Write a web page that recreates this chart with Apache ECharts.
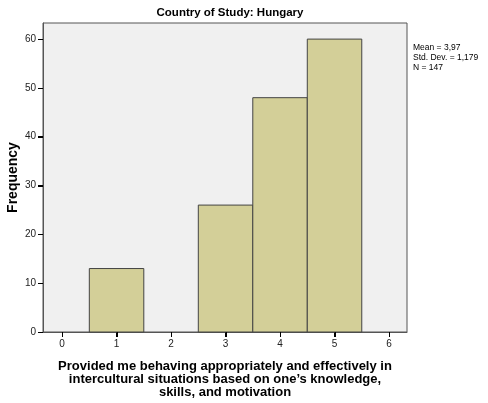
<!DOCTYPE html>
<html><head><meta charset="utf-8">
<script src="https://cdn.jsdelivr.net/npm/echarts@6/dist/echarts.min.js"></script>
<style>html,body{margin:0;padding:0;background:#fff}#c{width:488px;height:403px}</style>
</head><body><div id="c"></div>
<script>
const binCenters = [1, 3, 4, 5];
const frequencies = [13, 26, 48, 60];
const xTicks = [0, 1, 2, 3, 4, 5, 6];
const yTicks = [0, 10, 20, 30, 40, 50, 60];
const titleText = 'Country of Study: Hungary';
const xName = 'Provided me behaving appropriately and effectively in\nintercultural situations based on one\u2019s knowledge,\nskills, and motivation';
const yName = 'Frequency';
const statsText = 'Mean = 3,97\nStd. Dev. = 1,179\nN = 147';

const X_MIN = -0.35, X_MAX = 6.33, Y_MIN = 0, Y_MAX = 63.3;
const chart = echarts.init(document.getElementById('c'));
const font = 'Liberation Sans, Arial, sans-serif';
chart.setOption({
  animation: false,
  title: {text: titleText, left: 225, top: 2, textAlign: 'center',
    textStyle: {fontFamily: font, fontSize: 11.5, fontWeight: 'bold', color: '#000'}},
  grid: {left: 43, top: 23, right: 81, bottom: 71, show: true,
    outerBoundsMode: 'none',
    backgroundColor: '#f0f0f0', borderColor: '#555', borderWidth: 1},
  xAxis: {type: 'value', min: X_MIN, max: X_MAX,
    axisLine: {show: true, onZero: false, lineStyle: {color: '#555'}},
    axisTick: {show: true, length: 5, customValues: xTicks, lineStyle: {color: '#000', width: 1}},
    axisLabel: {color: '#222', fontFamily: font, fontSize: 10, margin: 7, customValues: xTicks},
    splitLine: {show: false},
    name: xName, nameLocation: 'middle', nameGap: 28,
    nameTextStyle: {fontFamily: font, fontSize: 13, fontWeight: 'bold', color: '#000', lineHeight: 13}
  },
  yAxis: {type: 'value', min: Y_MIN, max: Y_MAX,
    axisLine: {show: true, onZero: false, lineStyle: {color: '#555'}},
    axisTick: {show: true, length: 5, customValues: yTicks, lineStyle: {color: '#000', width: 1}},
    axisLabel: {color: '#222', fontFamily: font, fontSize: 10, margin: 7, customValues: yTicks},
    splitLine: {show: false},
    name: yName, nameLocation: 'middle', nameGap: 23, nameRotate: 90, nameMoveOverlap: false,
    nameTextStyle: {fontFamily: font, fontSize: 14, fontWeight: 'bold', color: '#000'}
  },
  graphic: [{type: 'text', left: 413, top: 43,
    style: {text: statsText, font: '8.5px ' + font, fill: '#000', lineHeight: 10}}],
  series: [{
    type: 'custom',
    data: binCenters.map((c, i) => [c, frequencies[i]]),
    renderItem: function (params, api) {
      const x = api.value(0), y = api.value(1);
      const p0 = api.coord([x - 0.5, y]);
      const p1 = api.coord([x + 0.5, 0]);
      return {type: 'rect',
        shape: {x: p0[0], y: p0[1], width: p1[0] - p0[0], height: p1[1] - p0[1]},
        style: {fill: '#d3cf98', stroke: '#444', lineWidth: 1}};
    }
  }]
});
// tick marks placed through the library's own scale conversion
const tickEls = [];
xTicks.forEach(v => {
  const p = chart.convertToPixel({gridIndex: 0}, [v, Y_MIN]);
  const x = Math.round(p[0]) + 0.5;
  tickEls.push({type: 'line', z: 100, silent: true,
    shape: {x1: x, y1: p[1], x2: x, y2: p[1] + 5}, style: {stroke: '#000', lineWidth: 1}});
});
yTicks.forEach(v => {
  const p = chart.convertToPixel({gridIndex: 0}, [X_MIN, v]);
  const y = Math.round(p[1]) + 0.5;
  tickEls.push({type: 'line', z: 100, silent: true,
    shape: {x1: p[0] - 5, y1: y, x2: p[0], y2: y}, style: {stroke: '#000', lineWidth: 1}});
});
chart.setOption({graphic: [{type: 'text', left: 413, top: 43,
    style: {text: statsText, font: '8.5px ' + font, fill: '#000', lineHeight: 10}}].concat(tickEls)});
</script></body></html>
